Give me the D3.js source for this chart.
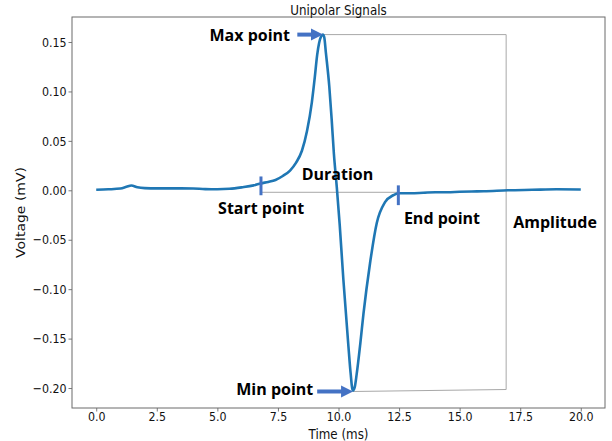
<!DOCTYPE html>
<html><head><meta charset="utf-8">
<script src="https://cdn.jsdelivr.net/npm/d3@7"></script>
<style>body{margin:0;background:#fff}svg{display:block}</style>
</head><body><svg id="c" width="612" height="441"></svg>
<script>
// ---- data ----
const time = [0, 0.5, 1.0, 1.25, 1.45, 1.7, 2.0, 2.5, 3, 3.5, 4, 4.5, 5, 5.5, 6, 6.5, 6.8, 7.1, 7.4, 7.7, 8.0, 8.25, 8.49, 8.7, 8.9, 9.02, 9.12, 9.2, 9.28, 9.35, 9.41, 9.48, 9.62, 9.72, 9.81, 9.93, 10.05, 10.2, 10.41, 10.5, 10.59, 10.67, 10.75, 10.9, 11.03, 11.3, 11.58, 11.92, 12.26, 12.47, 13, 13.5, 14, 14.5, 15, 15.5, 16, 17, 18, 19, 20];
const voltage = [0.0005, 0.001, 0.0018, 0.0035, 0.0048, 0.003, 0.0022, 0.002, 0.002, 0.002, 0.0018, 0.0012, 0.001, 0.0015, 0.003, 0.005, 0.007, 0.0085, 0.0105, 0.0145, 0.020, 0.028, 0.040, 0.060, 0.089, 0.114, 0.137, 0.149, 0.1555, 0.1575, 0.155, 0.139, 0.105, 0.071, 0.037, 0.003, -0.035, -0.09, -0.158, -0.185, -0.2025, -0.199, -0.186, -0.155, -0.125, -0.074, -0.033, -0.012, -0.005, -0.003, -0.003, -0.0025, -0.002, -0.002, -0.0015, -0.0012, -0.001, 0.0, 0.0005, 0.001, 0.0008];
const xTicks = [0, 2.5, 5, 7.5, 10, 12.5, 15, 17.5, 20];
const yTicks = [-0.20, -0.15, -0.10, -0.05, 0.00, 0.05, 0.10, 0.15];
const xDomain = [-1, 21];
const yDomain = [-0.2202, 0.1753];
const titleText = "Unipolar Signals";
const xLabelText = "Time (ms)";
const yLabelText = "Voltage (mV)";
// annotation geometry in data units
const maxPoint = [9.35, 0.1575];
const minPoint = [10.6, -0.2035];
const boxRight = 16.92;
const durationLine = [[6.8, -0.002], [12.47, -0.002]];
const markers = [[6.8, 0.014, -0.005], [12.47, 0.005, -0.015]];
const arrows = [[8.3, 9.36, 0.1575], [9.12, 10.6, -0.2035]];
const labelNames = ["Max point", "Duration", "Start point", "End point", "Amplitude", "Min point"];
const labelX = [8.0, 8.48, 5.03, 12.7, 17.21, 8.96];
const labelY = [0.1513, 0.0104, -0.0235, -0.034, -0.038, -0.207];
const labelAnchor = ["end", "start", "start", "start", "start", "end"];

// ---- layout ----
const L = 72, R = 605, T = 17, B = 408;
const svg = d3.select("#c");
const x = d3.scaleLinear().domain(xDomain).range([L, R]);
const y = d3.scaleLinear().domain(yDomain).range([B, T]);
const spine = "#6b6b6b", grid = "#a8a8a8", blue = "#4472C4", lineC = "#1f77b4";
const tickFont = "DejaVu Sans, sans-serif";
const sx = 0.85; // horizontal squeeze of the reference text

// axes
const xa = svg.append("g").attr("transform", `translate(0,${B})`)
  .call(d3.axisBottom(x).tickValues(xTicks).tickFormat(d3.format(".1f")).tickSize(3.5).tickPadding(0.5));
const ya = svg.append("g").attr("transform", `translate(${L},0)`)
  .call(d3.axisLeft(y).tickValues(yTicks).tickFormat(d3.format(".2f")).tickSize(3.5).tickPadding(2));
[xa, ya].forEach(a => {
  a.select(".domain").remove();
  a.selectAll(".tick line").attr("stroke", spine).attr("stroke-width", 0.9);
  a.selectAll(".tick text").attr("font-family", tickFont).attr("font-size", 13).attr("fill", "#111")
    .attr("transform", `scale(${sx},1)`);
});
ya.selectAll(".tick text").attr("x", -5.5 / sx);

// spines
svg.append("rect").attr("x", L).attr("y", T).attr("width", R - L).attr("height", B - T)
  .attr("fill", "none").attr("stroke", spine).attr("stroke-width", 1);

// annotation box lines
const ann = svg.append("g").attr("stroke", grid).attr("stroke-width", 1).attr("fill", "none");
ann.append("line").attr("x1", x(maxPoint[0])).attr("y1", y(maxPoint[1])).attr("x2", x(boxRight)).attr("y2", y(maxPoint[1]));
ann.append("line").attr("x1", x(boxRight)).attr("y1", y(maxPoint[1])).attr("x2", x(boxRight)).attr("y2", y(-0.2015));
ann.append("line").attr("x1", x(minPoint[0])).attr("y1", y(minPoint[1])).attr("x2", x(boxRight)).attr("y2", y(-0.2015));
ann.append("line").attr("x1", x(durationLine[0][0])).attr("y1", y(durationLine[0][1])).attr("x2", x(durationLine[1][0])).attr("y2", y(durationLine[1][1]));

// signal
const pts = time.map((t, i) => [t, voltage[i]]);
svg.append("path").datum(pts)
  .attr("d", d3.line().x(d => x(d[0])).y(d => y(d[1])).curve(d3.curveMonotoneX))
  .attr("fill", "none").attr("stroke", lineC).attr("stroke-width", 2.6).attr("stroke-linejoin", "round");

// start/end markers
markers.forEach(m => {
  svg.append("line").attr("x1", x(m[0])).attr("x2", x(m[0])).attr("y1", y(m[1])).attr("y2", y(m[2]))
    .attr("stroke", blue).attr("stroke-width", 3);
});

// arrows
arrows.forEach(a => {
  const x1 = x(a[0]), x2 = x(a[1]), yy = y(a[2]);
  const hl = 12, hw = 6;
  svg.append("line").attr("x1", x1).attr("x2", x2 - hl + 1).attr("y1", yy).attr("y2", yy)
    .attr("stroke", blue).attr("stroke-width", 4);
  svg.append("path").attr("d", `M${x2},${yy}L${x2 - hl},${yy - hw}L${x2 - hl},${yy + hw}Z`).attr("fill", blue);
});

// labels
labelNames.forEach((n, i) => {
  svg.append("text").attr("x", x(labelX[i])).attr("y", y(labelY[i]))
    .attr("text-anchor", labelAnchor[i])
    .attr("font-family", "'Open Sans', sans-serif").attr("font-weight", 700).attr("font-size", 16)
    .attr("fill", "#000").text(n);
});

// title & axis labels
const cx = (L + R) / 2;
svg.append("text").attr("transform", `translate(${cx},14.5) scale(${sx},1)`).attr("text-anchor", "middle")
  .attr("font-family", tickFont).attr("font-size", 14).attr("fill", "#111").text(titleText);
svg.append("text").attr("transform", `translate(${cx},438.5) scale(${sx},1)`).attr("text-anchor", "middle")
  .attr("font-family", tickFont).attr("font-size", 14).attr("fill", "#111").text(xLabelText);
svg.append("text").attr("transform", `translate(25,${(T + B) / 2}) scale(${sx},1) rotate(-90)`).attr("text-anchor", "middle")
  .attr("font-family", tickFont).attr("font-size", 14).attr("fill", "#111").text(yLabelText);
</script></body></html>
